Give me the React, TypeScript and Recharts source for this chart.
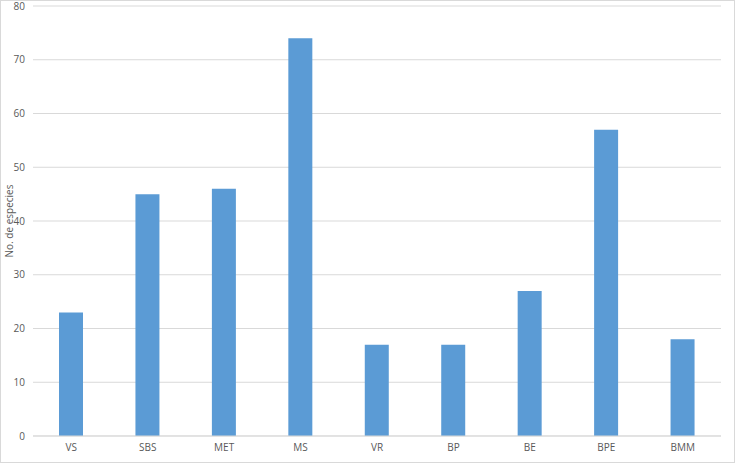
import { Bar, BarChart, CartesianGrid, Label, XAxis, YAxis } from "recharts"

const categories = ["VS", "SBS", "MET", "MS", "VR", "BP", "BE", "BPE", "BMM"]
const especies = [23, 45, 46, 74, 17, 17, 27, 57, 18]
const yTicks = [0, 10, 20, 30, 40, 50, 60, 70, 80]

const data = categories.map((name, i) => ({ name, especies: especies[i] }))

const font = "'Open Sans', 'Liberation Sans', sans-serif"

export default function App() {
  return (
    <div
      style={{
        position: "absolute",
        left: 0,
        top: 0,
        width: 735,
        height: 463,
        background: "#fff",
        border: "1px solid #d9d9d9",
        boxSizing: "border-box",
        fontFamily: font,
      }}
    >
      <div style={{ position: "absolute", left: -1, top: -1 }}>
        <BarChart width={735} height={463} data={data} margin={{ top: 6, right: 14, bottom: 0, left: 0 }}>
          <CartesianGrid vertical={false} stroke="#d9d9d9" />
          <XAxis
            dataKey="name"
            height={27}
            tickLine={false}
            axisLine={{ stroke: "#d9d9d9" }}
            tick={{ fill: "#595959", fontSize: 10, fontFamily: font }}
          />
          <YAxis
            width={33}
            domain={[0, 80]}
            ticks={yTicks}
            tickLine={false}
            axisLine={false}
            tick={{ fill: "#595959", fontSize: 10, fontFamily: font }}
          >
            <Label
              content={({ viewBox }: any) => {
                const cy = viewBox.y + viewBox.height / 2
                return (
                  <text
                    x={9}
                    y={cy}
                    transform={`rotate(-90 9 ${cy})`}
                    textAnchor="middle"
                    dominantBaseline="central"
                    fill="#595959"
                    fontSize={10}
                    fontFamily={font}
                  >
                    No. de especies
                  </text>
                )
              }}
            />
          </YAxis>
          <Bar dataKey="especies" fill="#5b9bd5" barSize={24} isAnimationActive={false} />
        </BarChart>
      </div>
    </div>
  )
}
